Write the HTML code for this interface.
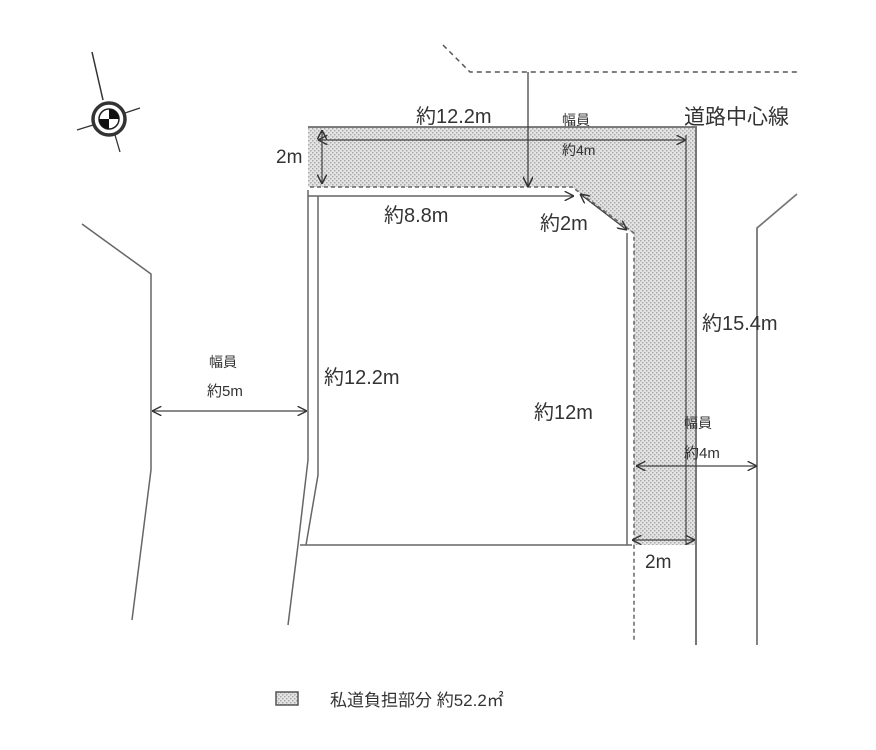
<!DOCTYPE html>
<html><head><meta charset="utf-8"><style>
html,body{margin:0;padding:0;background:#fff;}
svg{display:block;}
text{font-family:"Liberation Sans","Noto Sans CJK JP",sans-serif;fill:#333;}
</style></head><body>
<svg width="876" height="750" viewBox="0 0 876 750" xmlns="http://www.w3.org/2000/svg">
<defs>
<pattern id="dots" width="4" height="4" patternUnits="userSpaceOnUse">
<rect width="4" height="4" fill="#e4e4e4"/>
<rect x="0" y="0" width="1.5" height="1.5" fill="#aaa"/>
<rect x="2" y="2" width="1.5" height="1.5" fill="#aaa"/>
</pattern>
<marker id="a" viewBox="0 0 10 10" refX="10" refY="5" markerWidth="8" markerHeight="8" orient="auto-start-reverse"><path d="M0,0 L10,5 L0,10" fill="none" stroke="#333" stroke-width="1.5"/></marker>
</defs>
<path d="M308,127 L697,127 L697,545 L634,545 L634,235 L572,187 L308,187 Z" fill="url(#dots)"/>
<path d="M443,45 L470,72 L800,72" fill="none" stroke="#555" stroke-width="1.5" stroke-dasharray="5,4"/>
<line x1="308" y1="127" x2="697" y2="127" stroke="#555" stroke-width="1.5"/>
<line x1="318" y1="140" x2="686" y2="140" stroke="#444" stroke-width="1.2" marker-start="url(#a)" marker-end="url(#a)"/>
<line x1="696" y1="127" x2="696" y2="645" stroke="#777" stroke-width="2"/>
<line x1="686" y1="135" x2="686" y2="545" stroke="#444" stroke-width="1.2"/>
<path d="M310,187 L572,187 L634,233 L634,640" fill="none" stroke="#666" stroke-width="1.5" stroke-dasharray="4,3"/>
<line x1="308" y1="196" x2="574" y2="196" stroke="#444" stroke-width="1.2" marker-end="url(#a)"/>
<path d="M308,190 L308,460 L298,545 L288,625" fill="none" stroke="#666" stroke-width="1.5"/>
<path d="M318,196 L318,475 L306,545" fill="none" stroke="#666" stroke-width="1.5"/>
<line x1="300" y1="545" x2="632" y2="545" stroke="#666" stroke-width="1.5"/>
<line x1="627" y1="233" x2="627" y2="545" stroke="#666" stroke-width="1.5"/>
<line x1="580" y1="194" x2="627" y2="230" stroke="#444" stroke-width="1.2" marker-start="url(#a)" marker-end="url(#a)"/>
<line x1="322" y1="130" x2="322" y2="184" stroke="#444" stroke-width="1.2" marker-start="url(#a)" marker-end="url(#a)"/>
<line x1="528" y1="72" x2="528" y2="187" stroke="#444" stroke-width="1.3" marker-end="url(#a)"/>
<path d="M797,194 L757,228 L757,645" fill="none" stroke="#777" stroke-width="1.8"/>
<line x1="636" y1="466" x2="757" y2="466" stroke="#444" stroke-width="1.2" marker-start="url(#a)" marker-end="url(#a)"/>
<line x1="632" y1="540" x2="695" y2="540" stroke="#444" stroke-width="1.2" marker-start="url(#a)" marker-end="url(#a)"/>
<path d="M82,224 L151,274 L151,470 L132,620" fill="none" stroke="#666" stroke-width="1.5"/>
<line x1="152" y1="411" x2="307" y2="411" stroke="#444" stroke-width="1.2" marker-start="url(#a)" marker-end="url(#a)"/>
<!-- compass -->
<g stroke="#333" fill="none">
<line x1="92" y1="52" x2="103" y2="100" stroke-width="1.5"/>
<line x1="115" y1="135" x2="120" y2="152" stroke-width="1.3"/>
<line x1="77" y1="130" x2="93" y2="125" stroke-width="1.3"/>
<line x1="125" y1="113" x2="140" y2="108" stroke-width="1.3"/>
<circle cx="109" cy="119" r="16" stroke-width="3.5"/>
</g>
<circle cx="109" cy="119" r="10" fill="#fff" stroke="#222" stroke-width="1.5"/>
<path d="M109,119 L109,109 A10,10 0 0 1 119,119 Z M109,119 L109,129 A10,10 0 0 1 99,119 Z" fill="#111"/>
<text x="416" y="123" font-size="20">約12.2m</text>
<text x="562" y="125" font-size="14">幅員</text>
<text x="562" y="155" font-size="14">約4m</text>
<text x="684" y="124" font-size="21">道路中心線</text>
<text x="276" y="163" font-size="19">2m</text>
<text x="384" y="222" font-size="20">約8.8m</text>
<text x="540" y="230" font-size="20">約2m</text>
<text x="702" y="330" font-size="20">約15.4m</text>
<text x="324" y="384" font-size="20">約12.2m</text>
<text x="534" y="419" font-size="20">約12m</text>
<text x="209" y="367" font-size="14">幅員</text>
<text x="207" y="396" font-size="15">約5m</text>
<text x="684" y="428" font-size="14">幅員</text>
<text x="684" y="458" font-size="15">約4m</text>
<text x="645" y="568" font-size="19">2m</text>
<rect x="276" y="692" width="22" height="13" fill="url(#dots)" stroke="#555" stroke-width="1.5"/>
<text x="330" y="706" font-size="17">私道負担部分 約52.2㎡</text>
</svg>
</body></html>
